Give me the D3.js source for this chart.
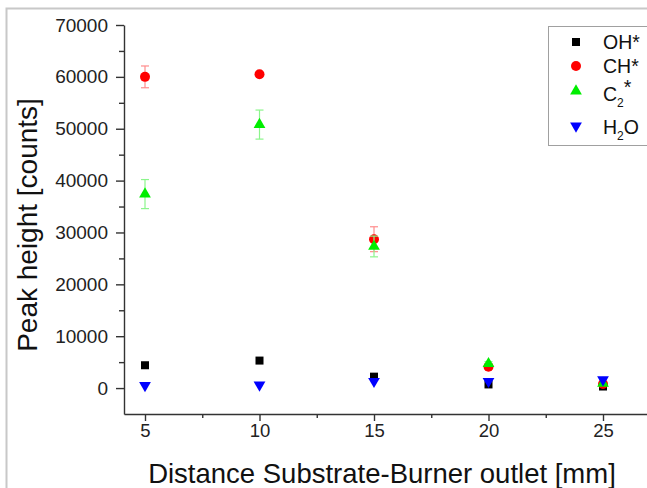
<!DOCTYPE html>
<html lang="en">
    <head>
        <meta charset="UTF-8" />
        <title>Peak height vs distance</title>
        <script src="https://cdn.jsdelivr.net/npm/d3@7"></script>
        <style>
            html, body { margin: 0; padding: 0; background: #fff; }
            svg { display: block; }
            svg text { font-family: "Liberation Sans", Arial, sans-serif; }
        </style>
    </head>
    <body>
        <svg id="chart" width="647" height="488"></svg>
        <script>
            // values
            const distance = [5, 10, 15, 20, 25]
            const ohStar = [4400, 5300, 2200, 700, 300]
            const chStar = [60000, 60500, 28700, 4100, 800]
            const c2Star = [37400, 50800, 27300, 4700, 900]
            const h2o = [500, 600, 1300, 1300, 1600]
            const chErr = [2100, 0, 2400, 500, 0]
            const c2Err = [2800, 2800, 2000, 400, 0]
            const xTicks = [5, 10, 15, 20, 25]
            const yTicks = [0, 10000, 20000, 30000, 40000, 50000, 60000, 70000]

            const series = [
                { name: 'OH*', values: ohStar, err: null, color: '#000000', errColor: null, shape: 'square' },
                { name: 'CH*', values: chStar, err: chErr, color: '#ff0000', errColor: '#ff8c8c', shape: 'circle' },
                { name: 'C2*', values: c2Star, err: c2Err, color: '#00ee00', errColor: '#8cf58c', shape: 'up' },
                { name: 'H2O', values: h2o, err: null, color: '#0000ff', errColor: null, shape: 'down' },
            ]

            const svg = d3.select('#chart')

            // light frame around the figure
            svg.append('rect')
                .attr('x', 6.5).attr('y', 8.5)
                .attr('width', 700).attr('height', 600)
                .style('fill', 'none')
                .style('stroke', '#c8c8c8')
                .style('stroke-width', 2)

            const x = d3.scaleLinear().domain([5, 25]).range([145, 603])
            const y = d3.scaleLinear().domain([-5000, 70000]).range([414, 25])

            const xAxisScale = x.copy().domain([x.invert(124), x.invert(650)]).range([124, 650])

            // minor ticks first, then major axes with labels
            const xMinor = [7.5, 12.5, 17.5, 22.5]
            const yMinor = [5000, 15000, 25000, 35000, 45000, 55000, 65000]

            svg.append('g')
                .attr('transform', `translate(0,${y(-5000)})`)
                .call(d3.axisBottom(xAxisScale).tickValues(xMinor).tickSize(4).tickFormat(''))
                .call(g => g.select('.domain').remove())

            svg.append('g')
                .attr('transform', `translate(124,0)`)
                .call(d3.axisLeft(y).tickValues(yMinor).tickSize(5).tickFormat(''))
                .call(g => g.select('.domain').remove())

            const xAxis = svg.append('g')
                .attr('transform', `translate(0,${y(-5000)})`)
                .call(d3.axisBottom(xAxisScale).tickValues(xTicks).tickSize(7).tickPadding(3).tickSizeOuter(0))
            xAxis.selectAll('text').style('font-size', '18.5px').style('fill', '#222')

            const yAxis = svg.append('g')
                .attr('transform', `translate(124,0)`)
                .call(d3.axisLeft(y).tickValues(yTicks).tickFormat(d3.format('d')).tickSize(8).tickPadding(8).tickSizeOuter(0))
            yAxis.selectAll('text').style('font-size', '19px').style('fill', '#222')

            svg.selectAll('.domain, .tick line')
                .style('stroke', '#333')
                .style('stroke-width', 1.4)

            // axis titles
            svg.append('text')
                .attr('x', 382).attr('y', 483)
                .attr('text-anchor', 'middle')
                .style('font-size', '27.5px')
                .style('fill', '#111')
                .text('Distance Substrate-Burner outlet [mm]')

            svg.append('text')
                .attr('transform', 'translate(37,225) rotate(-90)')
                .attr('text-anchor', 'middle')
                .style('font-size', '28px')
                .style('fill', '#111')
                .text('Peak height [counts]')

            function drawMarker(sel, shape, color) {
                if (shape === 'square') {
                    sel.append('rect')
                        .attr('x', -4).attr('y', -4)
                        .attr('width', 8).attr('height', 8)
                        .style('fill', color)
                } else if (shape === 'circle') {
                    sel.append('circle').attr('r', 5).style('fill', color)
                } else {
                    sel.append('path')
                        .attr('d', d3.symbol(d3.symbolTriangle, 60)())
                        .attr('transform', shape === 'down' ? 'rotate(180)' : null)
                        .style('fill', color)
                }
            }

            // error bars and markers, series by series
            series.forEach(s => {
                const pts = distance.map((d, i) => ({ x: d, v: s.values[i], e: s.err ? s.err[i] : 0 }))
                const g = svg.append('g')

                if (s.err) {
                    const eb = g.selectAll('g.err')
                        .data(pts.filter(p => p.e > 0))
                        .enter().append('g')
                        .attr('class', 'err')
                        .style('stroke', s.errColor)
                        .style('stroke-width', 1.2)
                    eb.append('line')
                        .attr('x1', p => x(p.x)).attr('x2', p => x(p.x))
                        .attr('y1', p => y(p.v + p.e)).attr('y2', p => y(p.v - p.e))
                    eb.append('line')
                        .attr('x1', p => x(p.x) - 4).attr('x2', p => x(p.x) + 4)
                        .attr('y1', p => y(p.v + p.e)).attr('y2', p => y(p.v + p.e))
                    eb.append('line')
                        .attr('x1', p => x(p.x) - 4).attr('x2', p => x(p.x) + 4)
                        .attr('y1', p => y(p.v - p.e)).attr('y2', p => y(p.v - p.e))
                }

                g.selectAll('g.pt')
                    .data(pts)
                    .enter().append('g')
                    .attr('class', 'pt')
                    .attr('transform', p => `translate(${x(p.x)},${y(p.v)})`)
                    .each(function () { drawMarker(d3.select(this), s.shape, s.color) })
            })

            // legend
            const legendRows = [42, 66, 91, 126]
            const legend = svg.append('g')
            legend.append('rect')
                .attr('x', 548.5).attr('y', 26.5)
                .attr('width', 130).attr('height', 119)
                .style('fill', '#fff')
                .style('stroke', '#a0a0a0')
                .style('stroke-width', 1)

            series.forEach((s, i) => {
                const row = legend.append('g').attr('transform', `translate(576,${legendRows[i]})`)
                drawMarker(row, s.shape, s.color)
                const t = row.append('text')
                    .attr('x', 27).attr('y', 7)
                    .style('font-size', '19.5px')
                    .style('fill', '#111')
                const m = s.name.match(/^([A-Z])(\d)(.*)$/)
                if (m) {
                    t.attr('y', i === 2 ? 10 : 8)
                    t.append('tspan').text(m[1])
                    t.append('tspan').attr('dy', 6).style('font-size', '12px').text(m[2])
                    t.append('tspan').attr('dy', i === 2 ? -13 : -6).text(m[3])
                } else {
                    t.text(s.name)
                }
            })
        </script>
    </body>
</html>
